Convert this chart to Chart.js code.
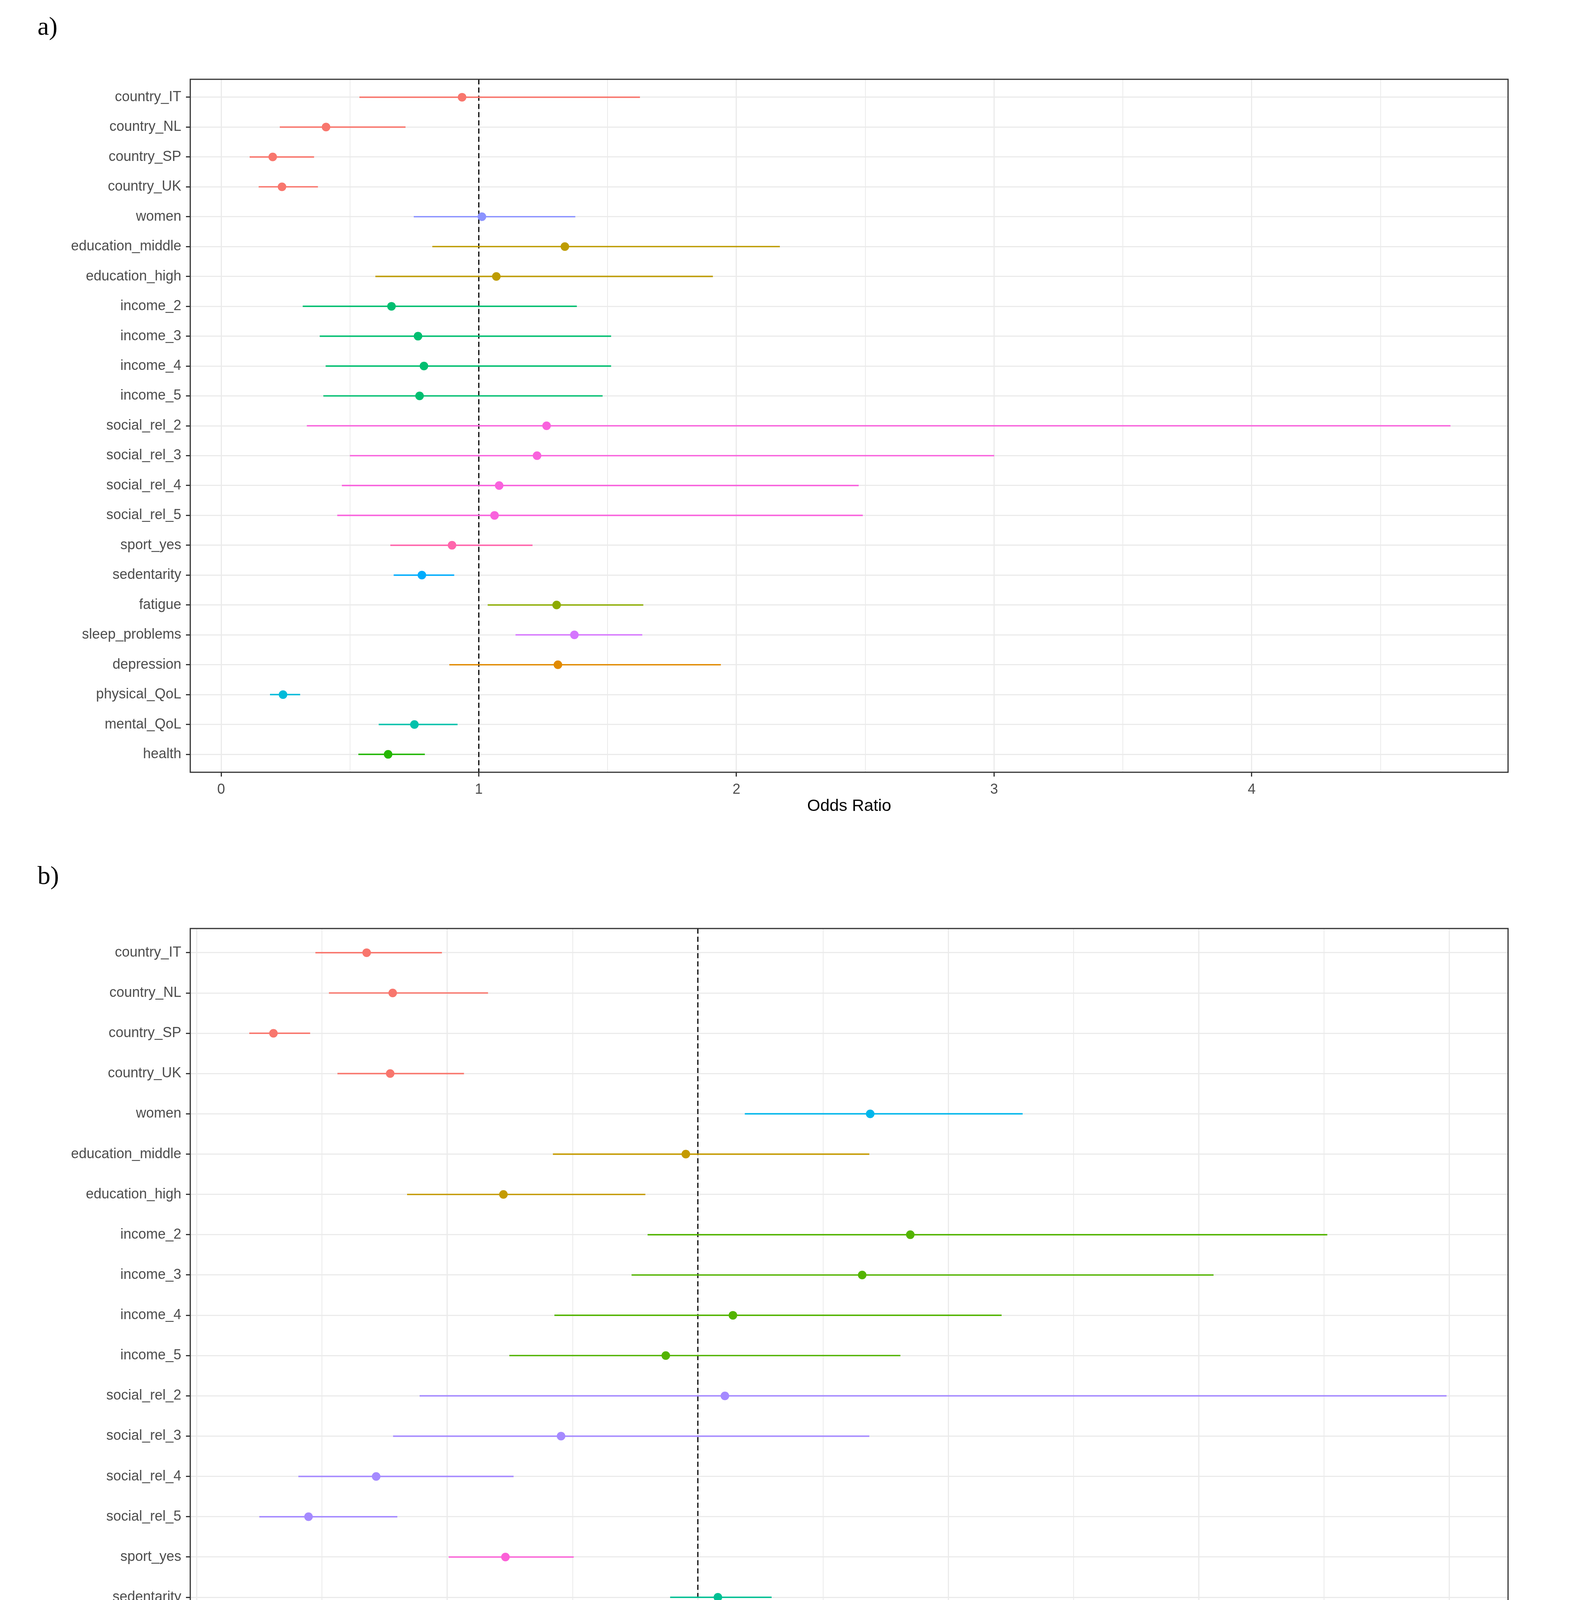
<!DOCTYPE html>
<html>
<head>
<meta charset="utf-8">
<script src="https://cdn.jsdelivr.net/npm/chart.js@4.4.1/dist/chart.umd.min.js"></script>
<style>
  body { margin: 0; background: #fff; }
  #page { position: relative; width: 4016px; height: 4313px; background: #fff; overflow: hidden; }
  .panel-tag {
    position: absolute;
    left: 96px;
    font-family: "Liberation Serif", "DejaVu Serif", serif;
    font-size: 66px;
    line-height: 66px;
    color: #000;
  }
  canvas { position: absolute; left: 0; }
</style>
</head>
<body>
<div id="page">
  <div class="panel-tag" style="top:34px">a)</div>
  <canvas id="chartA" width="4016" height="2130" style="top:0px"></canvas>
  <div class="panel-tag" style="top:2208px">b)</div>
  <canvas id="chartB" width="4016" height="2163" style="top:2150px"></canvas>
</div>
<script>
// ---- panel a) ----
const labelsA = [
  "country_IT", "country_NL", "country_SP", "country_UK", "women",
  "education_middle", "education_high", "income_2", "income_3", "income_4",
  "income_5", "social_rel_2", "social_rel_3", "social_rel_4", "social_rel_5",
  "sport_yes", "sedentarity", "fatigue", "sleep_problems", "depression",
  "physical_QoL", "mental_QoL", "health",
];
const orA = [0.935, 0.407, 0.2, 0.236, 1.012, 1.334, 1.068, 0.661, 0.764, 0.787, 0.77,
  1.263, 1.226, 1.079, 1.061, 0.896, 0.779, 1.302, 1.371, 1.307, 0.24, 0.75, 0.648];
const lowA = [0.537, 0.228, 0.111, 0.146, 0.748, 0.82, 0.599, 0.317, 0.383, 0.406, 0.397,
  0.333, 0.5, 0.469, 0.451, 0.657, 0.67, 1.035, 1.143, 0.886, 0.19, 0.612, 0.533];
const highA = [1.625, 0.715, 0.36, 0.375, 1.374, 2.168, 1.908, 1.38, 1.513, 1.513, 1.48,
  4.771, 3.0, 2.474, 2.49, 1.208, 0.904, 1.638, 1.634, 1.939, 0.306, 0.917, 0.79];
const xMajorA = [0, 1, 2, 3, 4];
const xMinorA = [0.5, 1.5, 2.5, 3.5, 4.5];
const xTickTextA = ["0", "1", "2", "3", "4"];

// ---- panel b) ----
const labelsB = [
  "country_IT", "country_NL", "country_SP", "country_UK", "women",
  "education_middle", "education_high", "income_2", "income_3", "income_4",
  "income_5", "social_rel_2", "social_rel_3", "social_rel_4", "social_rel_5",
  "sport_yes", "sedentarity",
];
const orB = [0.339, 0.391, 0.153, 0.386, 1.344, 0.976, 0.612, 1.424, 1.328, 1.07, 0.936,
  1.054, 0.727, 0.358, 0.223, 0.616, 1.04];
const lowB = [0.237, 0.264, 0.105, 0.281, 1.094, 0.711, 0.42, 0.9, 0.868, 0.714, 0.624,
  0.445, 0.392, 0.203, 0.125, 0.503, 0.945];
const highB = [0.489, 0.581, 0.226, 0.533, 1.648, 1.342, 0.895, 2.256, 2.029, 1.606, 1.404,
  2.494, 1.342, 0.632, 0.4, 0.752, 1.147];
const xMajorB = [0, 0.5, 1, 1.5, 2, 2.5];
const xMinorB = [0.25, 0.75, 1.25, 1.75, 2.25];
const xTickTextB = ["0.0", "0.5", "1.0", "1.5", "2.0", "2.5"];

const refLine = 1;

// colours (ggplot hue palette, one per variable group)
const colorsA = [
  "#F8766D", "#F8766D", "#F8766D", "#F8766D", "#8B93FF",
  "#BE9C00", "#BE9C00", "#00BE70", "#00BE70", "#00BE70",
  "#00BE70", "#F962DD", "#F962DD", "#F962DD", "#F962DD",
  "#FF65AC", "#00ACFC", "#8CAB00", "#D575FE", "#E18A00",
  "#00BBDA", "#00C1AB", "#24B700",
];
const colorsB = [
  "#F8766D", "#F8766D", "#F8766D", "#F8766D", "#00B6EB",
  "#C49A00", "#C49A00", "#53B400", "#53B400", "#53B400",
  "#53B400", "#A58AFF", "#A58AFF", "#A58AFF", "#A58AFF",
  "#FB61D7", "#00C094",
];

const fontFamily = "'Liberation Sans', Arial, sans-serif";

// dashed line at OR = 1 and the panel border
const panelExtras = {
  id: "panelExtras",
  beforeDatasetDraw(chart, args) {
    if (args.index !== 1) return;
    const { ctx, chartArea } = chart;
    const x = chart.scales.x.getPixelForValue(refLine);
    ctx.save();
    ctx.strokeStyle = "#000";
    ctx.lineWidth = 3;
    ctx.setLineDash([13, 8]);
    ctx.beginPath();
    ctx.moveTo(x, chartArea.top);
    ctx.lineTo(x, chartArea.bottom);
    ctx.stroke();
    ctx.restore();
  },
  afterDraw(chart) {
    const { ctx, chartArea } = chart;
    ctx.save();
    ctx.strokeStyle = "#333333";
    ctx.lineWidth = 3;
    ctx.strokeRect(chartArea.left, chartArea.top,
      chartArea.right - chartArea.left, chartArea.bottom - chartArea.top);
    ctx.restore();
  },
};

function forestPlot(canvasId, o) {
  var rows = o.labels.map(function (label, i) { return i; });
  var isMajor = function (c) { return c.tick && o.major.indexOf(c.tick.value) >= 0; };

  return new Chart(document.getElementById(canvasId), {
    type: "scatter",
    data: {
      datasets: [
        {
          type: "bar",
          indexAxis: "y",
          xAxisID: "x",
          yAxisID: "y",
          data: rows.map(function (i) { return { y: i, x: [o.low[i], o.high[i]] }; }),
          backgroundColor: o.colors,
          borderWidth: 0,
          barThickness: 3,
          grouped: false,
        },
        {
          type: "scatter",
          xAxisID: "x",
          yAxisID: "y",
          data: rows.map(function (i) { return { x: o.or[i], y: i }; }),
          pointBackgroundColor: o.colors,
          pointBorderWidth: 0,
          pointRadius: 11,
        },
      ],
    },
    options: {
      responsive: false,
      animation: false,
      layout: { padding: { top: o.top, right: 156, left: 0, bottom: 0 } },
      plugins: { legend: { display: false }, tooltip: { enabled: false } },
      scales: {
        x: {
          type: "linear",
          offset: false,
          min: o.xMin,
          max: o.xMax,
          afterBuildTicks: function (axis) {
            axis.ticks = o.major.concat(o.minor)
              .sort(function (a, b) { return a - b; })
              .map(function (v) { return { value: v }; });
          },
          afterFit: function (axis) { axis.height = o.xAxisHeight; },
          border: { display: false },
          grid: {
            offset: false,
            color: "#EBEBEB",
            lineWidth: function (c) { return isMajor(c) ? 3 : 2; },
            tickColor: function (c) { return isMajor(c) ? "#333333" : "rgba(0,0,0,0)"; },
            tickLength: 11,
            tickWidth: 3,
          },
          ticks: {
            autoSkip: false,
            maxRotation: 0,
            padding: 12,
            color: "#4D4D4D",
            font: { family: fontFamily, size: 36 },
            callback: function (value) {
              var k = o.major.indexOf(value);
              return k < 0 ? "" : o.tickText[k];
            },
          },
          title: {
            display: true,
            text: "Odds Ratio",
            color: "#000",
            font: { family: fontFamily, size: 43 },
            padding: { top: 0, bottom: o.titlePad },
          },
        },
        y: {
          type: "linear",
          offset: false,
          reverse: true,
          min: -0.6,
          max: o.labels.length - 0.4,
          afterBuildTicks: function (axis) {
            axis.ticks = rows.map(function (i) { return { value: i }; });
          },
          afterFit: function (axis) { axis.width = 487; },
          border: { display: false },
          grid: {
            offset: false,
            color: "#EBEBEB",
            lineWidth: 3,
            tickColor: "#333333",
            tickLength: 11,
            tickWidth: 3,
          },
          ticks: {
            autoSkip: false,
            padding: 12,
            color: "#4D4D4D",
            font: { family: fontFamily, size: 36 },
            callback: function (value) { return o.labels[value]; },
          },
        },
      },
    },
    plugins: [panelExtras],
  });
}

forestPlot("chartA", {
  labels: labelsA, or: orA, low: lowA, high: highA, colors: colorsA,
  major: xMajorA, minor: xMinorA, tickText: xTickTextA,
  xMin: -0.12, xMax: 4.995,
  top: 203, xAxisHeight: 153, titlePad: 40,
});

forestPlot("chartB", {
  labels: labelsB, or: orB, low: lowB, high: highB, colors: colorsB,
  major: xMajorB, minor: xMinorB, tickText: xTickTextB,
  xMin: -0.013, xMax: 2.617,
  top: 227, xAxisHeight: 162, titlePad: 50,
});
</script>
</body>
</html>
